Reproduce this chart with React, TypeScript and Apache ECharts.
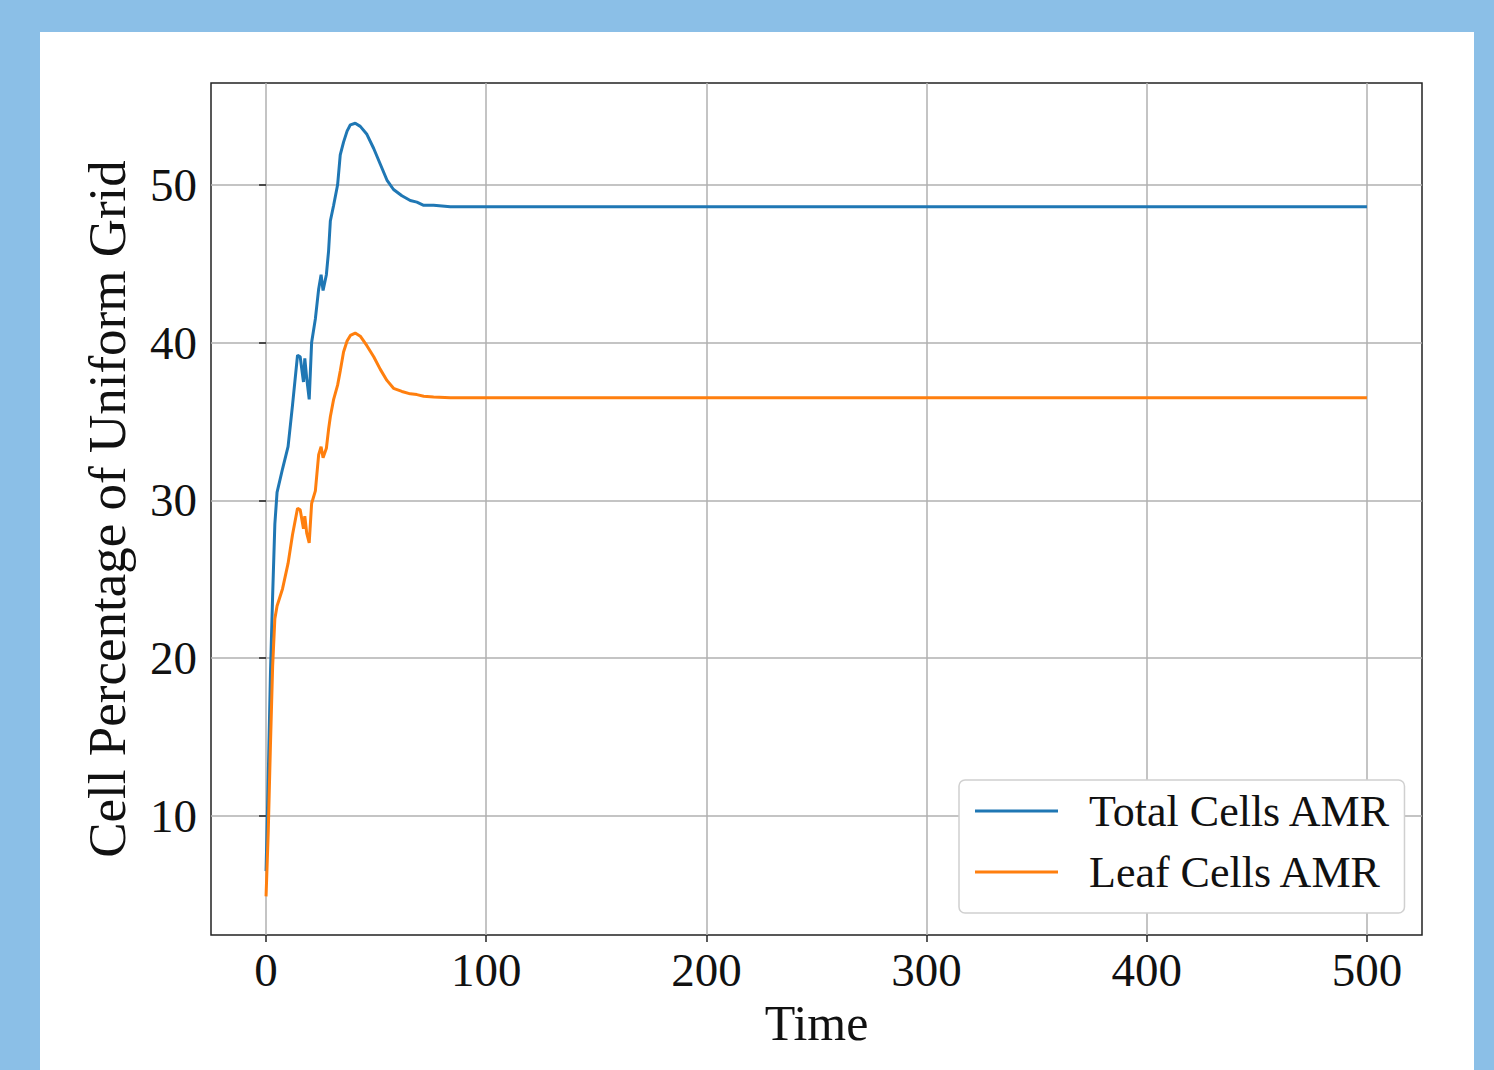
import React, { useEffect, useRef } from "react";
import * as echarts from "echarts";

const timeValues = [0, 1, 2, 3, 4, 5, 7.5, 10, 12, 14.3, 15.5, 17, 17.6, 18.5, 19.6, 20.7, 22.4, 23.9, 25, 25.9, 27.4, 28.4, 29.2, 30.7, 32.5, 33.7, 35.2, 36.8, 38.3, 40.5, 42.8, 45.8, 48.9, 51.9, 54.9, 57.9, 61.7, 65.5, 68.5, 71.6, 76.1, 83.7, 100, 200, 300, 400, 500];
const totalCells = [6.5, 12.5, 19, 24, 28.5, 30.5, 32, 33.4, 36, 39.2, 39.1, 37.5, 39, 37.7, 36.4, 40, 41.5, 43.4, 44.3, 43.3, 44.3, 45.8, 47.7, 48.7, 50, 51.9, 52.7, 53.4, 53.8, 53.9, 53.7, 53.2, 52.3, 51.3, 50.3, 49.7, 49.3, 49.0, 48.9, 48.7, 48.7, 48.6, 48.6, 48.6, 48.6, 48.6, 48.6];
const leafCells = [4.9, 9, 14.5, 19.5, 22.5, 23.3, 24.4, 26, 27.8, 29.5, 29.4, 28.2, 29, 27.9, 27.3, 29.8, 30.6, 32.9, 33.4, 32.7, 33.3, 34.5, 35.3, 36.4, 37.3, 38.2, 39.4, 40.1, 40.45, 40.6, 40.4, 39.8, 39.1, 38.3, 37.6, 37.1, 36.9, 36.75, 36.7, 36.6, 36.55, 36.5, 36.5, 36.5, 36.5, 36.5, 36.5];
const xTicks = [0, 100, 200, 300, 400, 500];
const yTicks = [10, 20, 30, 40, 50];
const seriesNames = ["Total Cells AMR", "Leaf Cells AMR"];

const FONT = "'Liberation Serif', 'DejaVu Serif', serif";

export default function App() {
  const ref = useRef<HTMLDivElement>(null);
  useEffect(() => {
    if (!ref.current) return;
    const chart = echarts.init(ref.current, undefined, { renderer: "svg" });
    const pair = (ys: number[]) => timeValues.map((t, i) => [t, ys[i]]);
    chart.setOption({
      animation: false,
      backgroundColor: "#8bbfe7",
      graphic: [
        { type: "rect", z: -10, shape: { x: 40, y: 32, width: 1434, height: 1040 }, style: { fill: "#ffffff" } },
      ],
      grid: {
        left: 211, top: 83, right: 72, bottom: 135,
        show: true, borderColor: "#222", borderWidth: 1.5, backgroundColor: "transparent",
      },
      xAxis: {
        type: "value", min: -25, max: 525,
        name: "Time", nameLocation: "middle", nameGap: 62,
        nameTextStyle: { fontFamily: FONT, fontSize: 50, color: "#111" },
        axisLine: { show: false },
        axisTick: { show: true, length: 7, lineStyle: { color: "#222", width: 1.5 }, customValues: xTicks },
        axisLabel: { customValues: xTicks, margin: 11, fontFamily: FONT, fontSize: 47, color: "#111" },
        splitLine: { show: true, lineStyle: { color: "#b0b0b0", width: 1.5 } },
      },
      yAxis: {
        type: "value", min: 2.45, max: 56.45,
        name: "Cell Percentage of Uniform Grid", nameLocation: "middle", nameGap: 78,
        nameTextStyle: { fontFamily: FONT, fontSize: 53, color: "#111" },
        axisLine: { show: false },
        axisTick: { show: true, length: 7, lineStyle: { color: "#222", width: 1.5 }, customValues: yTicks },
        axisLabel: { customValues: yTicks, margin: 14, fontFamily: FONT, fontSize: 47, color: "#111" },
        splitLine: { show: true, lineStyle: { color: "#b0b0b0", width: 1.5 } },
      },
      legend: {
        orient: "vertical", left: 959, top: 780,
        padding: [9, 13, 19, 16], itemGap: 17,
        backgroundColor: "#ffffff", borderColor: "#d0d0d0", borderWidth: 1.5, borderRadius: 6,
        itemWidth: 83, itemHeight: 3, icon: "rect",
        textStyle: { fontFamily: FONT, fontSize: 44, color: "#111", padding: [0, 0, 0, 26] },
        data: seriesNames,
      },
      series: [
        { name: seriesNames[0], type: "line", data: pair(totalCells), showSymbol: false, lineStyle: { color: "#1f77b4", width: 3 }, itemStyle: { color: "#1f77b4" } },
        { name: seriesNames[1], type: "line", data: pair(leafCells), showSymbol: false, lineStyle: { color: "#ff7f0e", width: 3 }, itemStyle: { color: "#ff7f0e" } },
      ],
    });
    return () => chart.dispose();
  }, []);
  return <div ref={ref} style={{ position: "fixed", left: 0, top: 0, width: 1494, height: 1070 }} />;
}
